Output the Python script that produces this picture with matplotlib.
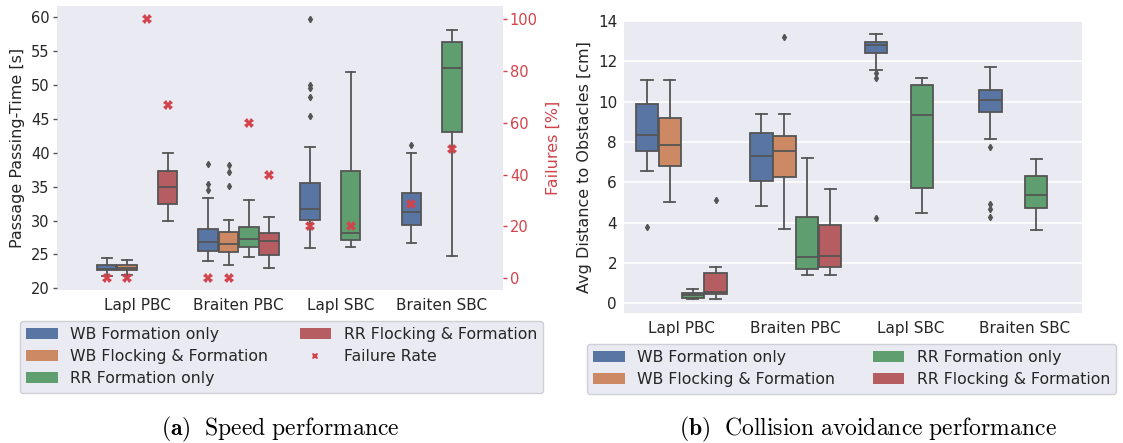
import colorsys
import numpy as np
import matplotlib
matplotlib.use("Agg")
import matplotlib.pyplot as plt
from matplotlib.patches import Patch
from matplotlib.lines import Line2D

plt.rcParams['font.family'] = ['DejaVu Sans']
plt.rcParams['mathtext.fontset'] = 'cm'

categories = ["Lapl PBC", "Braiten PBC", "Lapl SBC", "Braiten SBC"]
series_names = ["WB Formation only", "WB Flocking & Formation",
                "RR Formation only", "RR Flocking & Formation"]

# (whisker low, q1, median, q3, whisker high, fliers) per category; None = no box
time_wb_form = [(21.8, 22.7, 22.8, 23.5, 24.5, []),
                (24.0, 25.5, 26.8, 28.8, 33.3, [34.5, 35.4, 38.4]),
                (25.9, 30.1, 31.7, 35.6, 40.9, [45.5, 48.2, 49.6, 50.0, 59.8]),
                (26.7, 29.4, 31.2, 34.0, 40.0, [41.2])]
time_wb_flock = [(22.0, 22.7, 23.0, 23.5, 24.2, []),
                 (23.4, 25.3, 26.6, 28.3, 30.1, [35.1, 37.1, 38.2]),
                 None, None]
time_rr_form = [None,
                (24.6, 26.1, 27.3, 29.1, 33.1, []),
                (26.1, 27.2, 28.2, 37.3, 51.9, []),
                (24.8, 43.0, 52.5, 56.3, 58.1, [])]
time_rr_flock = [(29.9, 32.4, 34.9, 37.3, 39.9, []),
                 (23.0, 24.9, 27.0, 28.2, 30.5, []),
                 None, None]

fail_wb_form = [0, 0, 20, 28.6]
fail_wb_flock = [0, 0, np.nan, np.nan]
fail_rr_form = [100, 60, 20, 50]
fail_rr_flock = [66.7, 40, np.nan, np.nan]

dist_wb_form = [(6.56, 7.55, 8.37, 9.9, 11.1, [3.79]),
                (4.83, 6.07, 7.31, 8.45, 9.4, []),
                (11.55, 12.41, 12.82, 12.95, 13.38, [4.24, 11.19, 11.44]),
                (8.13, 9.5, 10.08, 10.56, 11.7, [4.29, 4.7, 4.95, 7.75])]
dist_wb_flock = [(5.0, 6.81, 7.84, 9.19, 11.1, []),
                 (3.68, 6.27, 7.56, 8.3, 9.4, [13.23]),
                 None, None]
dist_rr_form = [(0.2, 0.25, 0.4, 0.52, 0.73, []),
                (1.42, 1.68, 2.28, 4.26, 7.21, []),
                (4.5, 5.72, 9.36, 10.81, 11.19, []),
                (3.66, 4.75, 5.35, 6.29, 7.18, [])]
dist_rr_flock = [(0.2, 0.44, 0.57, 1.51, 1.81, [5.1]),
                 (1.4, 1.81, 2.36, 3.89, 5.69, []),
                 None, None]


def desat(c, prop=0.75):
    h, l, s = colorsys.rgb_to_hls(*c)
    return colorsys.hls_to_rgb(h, l, s * prop)


deep = [(0.298, 0.447, 0.690), (0.867, 0.518, 0.322),
        (0.333, 0.659, 0.408), (0.769, 0.306, 0.322)]
colors = [desat(c) for c in deep]
gray = '#555555'
red = '#d2434b'
bg = '#EAEAF2'
txt = '#262626'
offsets = [-0.3, -0.1, 0.1, 0.3]


def draw_boxes(ax, series):
    for hi, ser in enumerate(series):
        stats, pos = [], []
        for ci, s in enumerate(ser):
            if s is None:
                continue
            lo, q1, med, q3, hi_, fl = s
            stats.append(dict(whislo=lo, q1=q1, med=med, q3=q3, whishi=hi_, fliers=fl))
            pos.append(ci + offsets[hi])
        ax.bxp(stats, positions=pos, widths=0.196, capwidths=0.098, patch_artist=True,
               boxprops=dict(facecolor=colors[hi], edgecolor=gray, linewidth=1.3),
               whiskerprops=dict(color=gray, linewidth=1.3),
               capprops=dict(color=gray, linewidth=1.3),
               medianprops=dict(color=gray, linewidth=1.3),
               flierprops=dict(marker='d', markerfacecolor=gray, markeredgecolor=gray,
                               markersize=3.2, linestyle='none'),
               manage_ticks=False)


def style(ax):
    ax.set_facecolor(bg)
    for sp in ax.spines.values():
        sp.set_visible(False)


fig = plt.figure(figsize=(11.23, 4.43), dpi=100)

# ---------- left panel ----------
axL = fig.add_axes([0.0505, 0.3454, 0.3974, 0.641])
style(axL)
draw_boxes(axL, [time_wb_form, time_wb_flock, time_rr_form, time_rr_flock])
axL.set_xlim(-0.79, 3.6)
axL.set_ylim(19.75, 61.67)
axL.set_yticks(np.arange(20, 61, 5))
axL.set_xticks(range(4))
axL.set_xticklabels(categories, fontsize=11, color=txt)
axL.tick_params(axis='x', length=0, pad=6)
axL.tick_params(axis='y', length=3, width=1, color=gray, labelsize=10.5, labelcolor=txt, pad=2)
axL.set_ylabel("Passage Passing-Time [s]", fontsize=11.5, color=txt, labelpad=4)

tw = axL.twinx()
tw.patch.set_visible(False)
for sp in tw.spines.values():
    sp.set_visible(False)
for hi, fr in enumerate([fail_wb_form, fail_wb_flock, fail_rr_form, fail_rr_flock]):
    xs = [ci + offsets[hi] for ci in range(4)]
    tw.plot(xs, fr, linestyle='none', marker='X', color=red, markersize=6.5,
            markeredgewidth=0, zorder=5)
tw.set_ylim(-4.5, 105)
tw.set_yticks(np.arange(0, 101, 20))
tw.tick_params(axis='y', length=3, width=1, color=red, labelsize=10.5, labelcolor=red, pad=2)
tw.set_ylabel("Failures [%]", fontsize=11.5, color=red, labelpad=6)
tw.set_xlim(-0.79, 3.6)

handlesL = [Patch(facecolor=colors[0], edgecolor='none', label=series_names[0]),
            Patch(facecolor=colors[1], edgecolor='none', label=series_names[1]),
            Patch(facecolor=colors[2], edgecolor='none', label=series_names[2]),
            Patch(facecolor=colors[3], edgecolor='none', label=series_names[3]),
            Line2D([], [], linestyle='none', marker='X', color=red, markersize=4.8,
                   markeredgewidth=0, label="Failure Rate")]
legL = fig.legend(handles=handlesL, loc='upper left', bbox_to_anchor=(20 / 1123, 1 - 321 / 443),
                  ncol=2, fontsize=11.3, frameon=True, facecolor=bg, edgecolor='#cfcfd6',
                  fancybox=True, borderaxespad=0, labelcolor=txt, labelspacing=0.45)
legL.get_frame().set_alpha(1)

# ---------- right panel ----------
axR = fig.add_axes([0.5557, 0.2935, 0.4078, 0.659])
style(axR)
axR.set_axisbelow(True)
axR.grid(axis='y', color='white', linewidth=1.2)
draw_boxes(axR, [dist_wb_form, dist_wb_flock, dist_rr_form, dist_rr_flock])
axR.set_xlim(-0.5, 3.5)
axR.set_ylim(-0.48, 14.0)
axR.set_yticks(np.arange(0, 15, 2))
axR.set_xticks(range(4))
axR.set_xticklabels(categories, fontsize=11, color=txt)
axR.tick_params(axis='x', length=0, pad=6)
axR.tick_params(axis='y', length=0, labelsize=11, labelcolor=txt, pad=5)
axR.set_ylabel("Avg Distance to Obstacles [cm]", fontsize=11.5, color=txt, labelpad=4)

handlesR = [Patch(facecolor=colors[i], edgecolor='none', label=series_names[i]) for i in range(4)]
legR = fig.legend(handles=handlesR, loc='upper left', bbox_to_anchor=(587 / 1123, 1 - 344 / 443),
                  ncol=2, fontsize=11.3, frameon=True, facecolor=bg, edgecolor='#cfcfd6',
                  fancybox=True, borderaxespad=0, labelcolor=txt, labelspacing=0.45,
                  columnspacing=2.4)
legR.get_frame().set_alpha(1)

# ---------- captions ----------
fig.text(280 / 1123, 1 - 429 / 443, r"$\mathbf{(a)}\ \ \mathrm{Speed\ performance}$",
         ha='center', va='center', fontsize=17, color='black')
fig.text(868 / 1123, 1 - 429 / 443, r"$\mathbf{(b)}\ \ \mathrm{Collision\ avoidance\ performance}$",
         ha='center', va='center', fontsize=17, color='black')

fig.savefig("out.png", dpi=100)
